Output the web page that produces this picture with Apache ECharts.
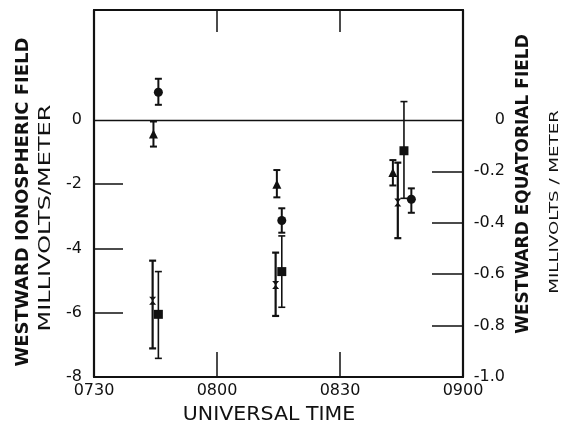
<!DOCTYPE html>
<html><head><meta charset="utf-8">
<script src="https://cdn.jsdelivr.net/npm/echarts@6/dist/echarts.min.js"></script>
<style>html,body{margin:0;padding:0;background:#fff}#c{width:563px;height:432px}</style>
</head><body><div id="c"></div>
<script>
// Universal time in minutes after 00:00
var xTickLabels = ['0730', '0800', '0830', '0900'];
var leftTickLabels = ['0', '-2', '-4', '-6', '-8'];
var rightTickLabels = ['0', '-0.2', '-0.4', '-0.6', '-0.8', '-1.0'];

var circleTime = [465.7, 495.8, 527.4];
var circleVal  = [0.86, -3.13, -2.47];
var circleLow  = [0.47, -3.51, -2.89];
var circleHigh = [1.28, -2.75, -2.13];

var triangleTime = [464.5, 494.6, 522.9];
var triangleVal  = [-0.44, -2.00, -1.64];
var triangleLow  = [-0.83, -2.41, -2.04];
var triangleHigh = [-0.05, -1.56, -1.25];

var crossTime = [464.3, 494.3, 524.1];
var crossVal  = [-5.63, -5.14, -2.57];
var crossLow  = [-7.11, -6.10, -3.68];
var crossHigh = [-4.38, -4.13, -1.33];

var squareTime = [465.7, 495.8, 525.6];
var squareVal  = [-6.05, -4.72, -0.96];
var squareLow  = [-7.42, -5.83, -2.44];
var squareHigh = [-4.72, -3.61, 0.57];

var leftMin = -8, leftMax = 3.42;
var rightMin = -1, rightMax = leftMax / 8;

var chart = echarts.init(document.getElementById('c'));
var FONT = 'DejaVu Sans';
var INK = '#111';

function errSeries(t, lo, hi, lw) {
  return {
    type: 'custom', xAxisIndex: 0, yAxisIndex: 0, silent: true, z: 3,
    data: t.map(function (v, i) { return [v, lo[i], hi[i]]; }),
    renderItem: function (params, api) {
      var a = api.coord([api.value(0), api.value(1)]);
      var b = api.coord([api.value(0), api.value(2)]);
      var w = 3.5;
      var st = { stroke: INK, lineWidth: lw };
      return { type: 'group', children: [
        { type: 'line', shape: { x1: a[0], y1: a[1], x2: b[0], y2: b[1] }, style: st },
        { type: 'line', shape: { x1: a[0] - w, y1: a[1], x2: a[0] + w, y2: a[1] }, style: st },
        { type: 'line', shape: { x1: b[0] - w, y1: b[1], x2: b[0] + w, y2: b[1] }, style: st }
      ]};
    }
  };
}
function pts(t, v, sym, size) {
  return {
    type: 'scatter', xAxisIndex: 0, yAxisIndex: 0, symbol: sym, symbolSize: size, z: 4,
    itemStyle: { color: INK, opacity: 1 }, silent: true,
    data: t.map(function (x, i) { return [x, v[i]]; })
  };
}

function axisLineStyle() { return { show: true, onZero: false, lineStyle: { color: INK, width: 2.2 } }; }

chart.setOption({
  animation: false,
  backgroundColor: '#fff',
  grid: { left: 94, right: 100, top: 10, bottom: 55 },
  xAxis: [{
    type: 'value', min: 450, max: 540, interval: 30, position: 'bottom',
    axisLine: axisLineStyle(),
    axisTick: { show: true, inside: true, length: 25, customValues: [480, 510], lineStyle: { color: INK, width: 1.5 } },
    splitLine: { show: false },
    axisLabel: { color: INK, fontFamily: FONT, fontSize: 16, margin: 6,
      formatter: function (v) { return xTickLabels[Math.round((v - 450) / 30)]; } }
  }, {
    type: 'value', min: 450, max: 540, interval: 30, position: 'top',
    axisLine: axisLineStyle(),
    axisTick: { show: true, inside: true, length: 22, customValues: [480, 510], lineStyle: { color: INK, width: 1.5 } },
    splitLine: { show: false }, axisLabel: { show: false }
  }],
  yAxis: [{
    type: 'value', min: leftMin, max: leftMax, position: 'left',
    axisLine: axisLineStyle(),
    axisTick: { show: true, inside: true, length: 29, customValues: [-6, -4, -2], lineStyle: { color: INK, width: 1.5 } },
    splitLine: { show: false },
    axisLabel: { color: INK, fontFamily: FONT, fontSize: 16, margin: 12,
      customValues: [0, -2, -4, -6, -8],
      formatter: function (v) { return leftTickLabels[Math.round(-v / 2)]; } }
  }, {
    type: 'value', min: rightMin, max: rightMax, position: 'right',
    axisLine: axisLineStyle(),
    axisTick: { show: true, inside: true, length: 31, customValues: [-0.8, -0.6, -0.4, -0.2], lineStyle: { color: INK, width: 1.5 } },
    splitLine: { show: false },
    axisLabel: { color: INK, fontFamily: FONT, fontSize: 16, margin: 42, align: 'right',
      customValues: [0, -0.2, -0.4, -0.6, -0.8, -1.0],
      formatter: function (v) { return rightTickLabels[Math.round(-v * 5)]; } }
  }],
  series: [
    {
      type: 'line', data: [], silent: true,
      markLine: { silent: true, symbol: 'none', label: { show: false },
        lineStyle: { color: INK, width: 1.3, type: 'solid' },
        data: [{ yAxis: 0 }] }
    },
    errSeries(circleTime, circleLow, circleHigh, 2),
    errSeries(triangleTime, triangleLow, triangleHigh, 2),
    errSeries(crossTime, crossLow, crossHigh, 2.2),
    errSeries(squareTime, squareLow, squareHigh, 1.6),
    pts(circleTime, circleVal, 'circle', 9),
    pts(triangleTime, triangleVal, 'triangle', 9),
    pts(crossTime, crossVal, 'path://M0,0L10,0L0,12L10,12Z', [7, 8]),
    pts(squareTime, squareVal, 'rect', 9)
  ],
  graphic: [
    { type: 'text', x: 23, y: 202, rotation: Math.PI / 2,
      style: { text: 'WESTWARD IONOSPHERIC FIELD', fill: INK, font: 'bold 18px "DejaVu Sans"', align: 'center', verticalAlign: 'middle' } },
    { type: 'text', x: 46, y: 218, rotation: Math.PI / 2, scaleX: 1.6,
      style: { text: 'MILLIVOLTS/METER', fill: INK, font: '15px "DejaVu Sans"', align: 'center', verticalAlign: 'middle' } },
    { type: 'text', x: 524, y: 184, rotation: Math.PI / 2,
      style: { text: 'WESTWARD EQUATORIAL FIELD', fill: INK, font: 'bold 17px "DejaVu Sans"', align: 'center', verticalAlign: 'middle' } },
    { type: 'text', x: 555, y: 202, rotation: Math.PI / 2, scaleX: 1.4,
      style: { text: 'MILLIVOLTS / METER', fill: INK, font: '13px "DejaVu Sans"', align: 'center', verticalAlign: 'middle' } },
    { type: 'text', x: 269, y: 415, scaleX: 1.08,
      style: { text: 'UNIVERSAL TIME', fill: INK, font: '19px "DejaVu Sans"', align: 'center', verticalAlign: 'middle' } }
  ]
});
</script></body></html>
